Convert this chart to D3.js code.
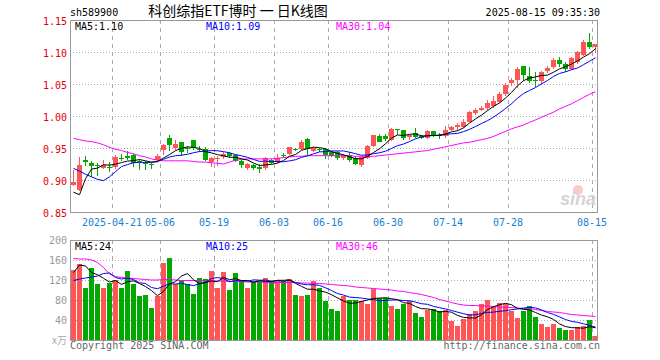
<!DOCTYPE html>
<html><head><meta charset="utf-8">
<script src="https://cdn.jsdelivr.net/npm/d3@7"></script>
<style>body{margin:0;background:#fff}svg{display:block}</style>
</head><body>
<svg id="c" width="660" height="360"></svg>
<script>
// ---------- data ----------
const dates = ["2025-04-10","2025-04-11","2025-04-14","2025-04-15","2025-04-16","2025-04-17","2025-04-18",
"2025-04-21","2025-04-22","2025-04-23","2025-04-24","2025-04-25","2025-04-28","2025-04-29","2025-04-30",
"2025-05-06","2025-05-07","2025-05-08","2025-05-09","2025-05-12","2025-05-13","2025-05-14","2025-05-15","2025-05-16",
"2025-05-19","2025-05-20","2025-05-21","2025-05-22","2025-05-23","2025-05-26","2025-05-27","2025-05-28","2025-05-29","2025-05-30",
"2025-06-03","2025-06-04","2025-06-05","2025-06-06","2025-06-09","2025-06-10","2025-06-11","2025-06-12","2025-06-13",
"2025-06-16","2025-06-17","2025-06-18","2025-06-19","2025-06-20","2025-06-23","2025-06-24","2025-06-25","2025-06-26","2025-06-27",
"2025-06-30","2025-07-01","2025-07-02","2025-07-03","2025-07-04","2025-07-07","2025-07-08","2025-07-09","2025-07-10","2025-07-11",
"2025-07-14","2025-07-15","2025-07-16","2025-07-17","2025-07-18","2025-07-21","2025-07-22","2025-07-23","2025-07-24","2025-07-25",
"2025-07-28","2025-07-29","2025-07-30","2025-07-31","2025-08-01","2025-08-04","2025-08-05","2025-08-06","2025-08-07","2025-08-08",
"2025-08-11","2025-08-12","2025-08-13","2025-08-14","2025-08-15"];

const opens = [0.892,0.885,0.931,0.927,0.924,0.919,0.921,0.920,0.935,0.937,
0.939,0.930,0.927,0.925,0.931,0.947,0.966,0.950,0.959,0.950,
0.962,0.949,0.949,0.928,0.933,0.936,0.942,0.939,0.930,0.918,
0.923,0.921,0.918,0.931,0.928,0.939,0.941,0.949,0.949,0.964,
0.946,0.948,0.948,0.943,0.943,0.934,0.939,0.934,0.923,0.934,
0.953,0.968,0.969,0.962,0.979,0.978,0.967,0.973,0.969,0.965,
0.976,0.970,0.968,0.978,0.983,0.983,0.991,1.005,1.010,1.013,
1.015,1.022,1.034,1.051,1.057,1.078,1.062,1.057,1.054,1.070,
1.076,1.087,1.081,1.074,1.084,1.095,1.115,1.108];
const highs = [0.916,0.936,0.937,0.929,0.926,0.932,0.928,0.939,0.940,0.945,
0.941,0.931,0.929,0.927,0.940,0.957,0.971,0.962,0.960,0.953,
0.963,0.953,0.951,0.936,0.937,0.943,0.943,0.941,0.931,0.927,
0.925,0.925,0.936,0.933,0.941,0.942,0.952,0.950,0.963,0.965,
0.952,0.950,0.950,0.945,0.945,0.941,0.943,0.937,0.937,0.954,
0.971,0.972,0.972,0.981,0.980,0.978,0.971,0.982,0.970,0.978,
0.977,0.974,0.984,0.985,0.989,0.995,1.008,1.012,1.016,1.025,
1.031,1.037,1.052,1.060,1.076,1.078,1.076,1.069,1.071,1.078,
1.090,1.092,1.085,1.092,1.102,1.119,1.130,1.113];
const lows = [0.890,0.883,0.922,0.905,0.906,0.917,0.912,0.917,0.929,0.931,
0.921,0.916,0.916,0.917,0.929,0.939,0.946,0.947,0.937,0.942,
0.947,0.944,0.929,0.920,0.922,0.933,0.934,0.928,0.918,0.916,
0.916,0.911,0.916,0.925,0.926,0.934,0.939,0.945,0.947,0.938,
0.944,0.944,0.933,0.936,0.932,0.931,0.928,0.923,0.921,0.933,
0.952,0.959,0.961,0.961,0.970,0.962,0.963,0.965,0.964,0.964,
0.967,0.964,0.966,0.976,0.977,0.981,0.990,1.002,1.008,1.010,
1.013,1.020,1.031,1.047,1.043,1.055,1.051,1.046,1.048,1.067,
1.073,1.077,1.069,1.072,1.082,1.094,1.104,1.099];
const closes = [0.897,0.923,0.928,0.922,0.923,0.923,0.920,0.936,0.934,0.935,
0.926,0.929,0.926,0.924,0.938,0.955,0.955,0.957,0.943,0.949,
0.950,0.948,0.931,0.934,0.935,0.941,0.937,0.930,0.923,0.925,
0.918,0.917,0.935,0.927,0.935,0.938,0.951,0.948,0.960,0.948,
0.950,0.947,0.939,0.938,0.934,0.939,0.931,0.925,0.936,0.953,
0.970,0.960,0.964,0.980,0.978,0.965,0.970,0.967,0.965,0.977,
0.969,0.969,0.978,0.983,0.986,0.991,1.007,1.010,1.013,1.021,
1.024,1.034,1.048,1.057,1.073,1.064,1.055,1.056,1.069,1.075,
1.087,1.081,1.073,1.090,1.100,1.116,1.108,1.112];

// moving averages at the left edge depend on days before the window
const ma5Head = [0.881,0.877,0.902,0.917];
const ma10Head = [0.918,0.914,0.909,0.905,0.901,0.899,0.905,0.913,0.921];
const ma30 = [0.965,0.963,0.961,0.960,0.958,0.955,0.951,0.948,0.946,0.943,
0.941,0.938,0.936,0.933,0.931,0.930,0.930,0.930,0.930,0.930,
0.929,0.928,0.928,0.927,0.926,0.925,0.928,0.931,0.932,0.933,
0.933,0.933,0.933,0.933,0.934,0.935,0.936,0.937,0.937,0.938,
0.938,0.938,0.938,0.938,0.938,0.938,0.938,0.937,0.937,0.937,
0.937,0.938,0.939,0.940,0.941,0.942,0.943,0.944,0.945,0.946,
0.948,0.950,0.952,0.954,0.956,0.958,0.959,0.961,0.963,0.965,
0.968,0.972,0.976,0.980,0.983,0.986,0.990,0.994,0.998,1.002,
1.006,1.011,1.015,1.019,1.024,1.029,1.034,1.038];

const volumes = [140,152,105,144,112,104,115,120,105,139,
112,89,90,64,88,155,164,113,120,113,
92,125,123,138,105,136,100,135,118,105,
118,118,125,118,118,118,122,90,88,90,
118,105,78,62,58,88,81,81,78,72,
103,85,85,68,62,73,78,54,46,60,
62,58,60,38,28,42,53,58,72,80,
69,74,72,58,44,58,69,46,32,27,
32,24,20,20,26,28,40,8];
const vma5Head = [135,150,148,135];
const vma10Head = [119,122,124,126,128,133,134,125,122];
const vma30 = [163,162,162,160,155,145,132,127,125,124,
123,122,121,120,120,121,121,120,119,119,
119,119,118,118,118,118,117,117,117,116,
116,116,115,115,115,115,115,115,114,114,
113,113,112,111,110,109,108,106,105,104,
103,102,101,100,98,97,95,93,91,88,
85,81,78,75,72,70,69,69,68,68,
67,66,65,65,64,63,63,61,59,57,
56,55,53,51,50,49,48,47];

const tickDates = ["2025-04-21","2025-05-06","2025-05-19","2025-06-03","2025-06-16","2025-06-30","2025-07-14","2025-07-28","2025-08-15"];
const priceTicks = [0.85,0.90,0.95,1.00,1.05,1.10,1.15];
const volTicks = [40,80,120,160,200];

const titleCode = "sh589900";
const titleName = "科创综指ETF博时 一 日K线图";
const titleTime = "2025-08-15 09:35:30";
const priceMaLabels = ["MA5:1.10","MA10:1.09","MA30:1.04"];
const volMaLabels = ["MA5:24","MA10:25","MA30:46"];

// ---------- helpers ----------
function movingAvg(arr, n, head){
  return arr.map((v,i)=> i < n-1 ? head[i] : d3.mean(arr.slice(i-n+1,i+1)));
}
const ma5 = movingAvg(closes,5,ma5Head), ma10 = movingAvg(closes,10,ma10Head);
const vma5 = movingAvg(volumes,5,vma5Head), vma10 = movingAvg(volumes,10,vma10Head);

const UP = "#ff5555", DOWN = "#00a800";
const MONO = "'DejaVu Sans Mono', monospace";
const L = 70, R = 598, PT = 20, PB = 212, VT = 240, VB = 340;

const svg = d3.select("#c");
const x = d3.scaleBand().domain(d3.range(dates.length)).range([L,R]).padding(0);
const cx = i => x(i) + 3.5;
const y = d3.scaleLinear().domain([0.85,1.15]).range([PB,PT]);
const yv = d3.scaleLinear().domain([0,200]).range([VB,VT]);
const dateIdx = d => dates.indexOf(d);

// ---------- grids ----------
function grids(top, bottom, scale, ticks){
  const g = svg.append("g").attr("shape-rendering","crispEdges");
  g.selectAll("line.h").data(ticks).join("line")
    .attr("x1",L).attr("x2",R).attr("y1",d=>Math.round(scale(d))+0.5).attr("y2",d=>Math.round(scale(d))+0.5)
    .attr("stroke","#aaa").attr("stroke-dasharray","1,2");
  g.selectAll("line.v").data(tickDates).join("line")
    .attr("x1",d=>x(dateIdx(d))+0.5).attr("x2",d=>x(dateIdx(d))+0.5).attr("y1",top).attr("y2",bottom)
    .attr("stroke","#aaa").attr("stroke-dasharray","4,4");
}
grids(PT, PB, y, priceTicks.slice(1,-1));
grids(VT, VB, yv, volTicks.slice(0,-1));

// ---------- watermark ----------
svg.append("circle").attr("cx",578).attr("cy",190).attr("r",5).attr("fill","#f5cccc");
svg.append("text").attr("x",596).attr("y",205).attr("text-anchor","end")
  .attr("font-family","'Liberation Sans',Arial,sans-serif").attr("font-size",18).attr("font-weight","bold")
  .attr("font-style","italic").attr("fill","#d4d4d4").text("sina");

// ---------- candles ----------
const cg = svg.append("g").attr("shape-rendering","crispEdges");
const color = i => closes[i] >= opens[i] ? UP : DOWN;
cg.selectAll("line.w").data(d3.range(dates.length)).join("line")
  .attr("x1",i=>Math.floor(cx(i))+0.5).attr("x2",i=>Math.floor(cx(i))+0.5)
  .attr("y1",i=>y(highs[i])).attr("y2",i=>y(lows[i])).attr("stroke",color);
cg.selectAll("rect.b").data(d3.range(dates.length)).join("rect")
  .attr("x",i=>x(i)+1).attr("width",5)
  .attr("y",i=>y(Math.max(opens[i],closes[i])))
  .attr("height",i=>Math.max(1, Math.abs(y(opens[i])-y(closes[i]))))
  .attr("fill",color);

// ---------- volume bars ----------
svg.append("g").attr("shape-rendering","crispEdges")
  .selectAll("rect").data(d3.range(dates.length)).join("rect")
  .attr("x",i=>x(i)+1).attr("width",5)
  .attr("y",i=>yv(volumes[i])).attr("height",i=>VB-yv(volumes[i]))
  .attr("fill",color);

// ---------- MA lines ----------
function maLine(vals, scale, col){
  svg.append("path").datum(vals)
    .attr("d", d3.line().x((d,i)=>cx(i)).y(d=>scale(d)))
    .attr("fill","none").attr("stroke",col).attr("stroke-width",1);
}
maLine(ma30, y, "#ff00ff"); maLine(ma10, y, "#0000ff"); maLine(ma5, y, "#000");
maLine(vma30, yv, "#ff00ff"); maLine(vma10, yv, "#0000ff"); maLine(vma5, yv, "#000");

// ---------- frames ----------
svg.append("rect").attr("x",L+0.5).attr("y",PT+0.5).attr("width",R-L-1).attr("height",PB-PT)
  .attr("fill","none").attr("stroke","#999").attr("shape-rendering","crispEdges");
svg.append("rect").attr("x",L+0.5).attr("y",VT+0.5).attr("width",R-L-1).attr("height",VB-VT)
  .attr("fill","none").attr("stroke","#999").attr("shape-rendering","crispEdges");

// ---------- texts ----------
const txt = (xx,yy,s,col,anchor="start",size=10,fam=MONO)=>
  svg.append("text").attr("x",xx).attr("y",yy).attr("text-anchor",anchor)
    .attr("font-family",fam).attr("font-size",size).attr("fill",col).text(s);

txt(70,16,titleCode,"#000");
txt(238,16,titleName,"#000","middle",14,"'Noto Sans CJK SC',sans-serif");
txt(600,16,titleTime,"#000","end");

const maCols = ["#000","#0000ff","#ff00ff"], maX = [75,206,336];
priceMaLabels.forEach((s,k)=>txt(maX[k],30,s,maCols[k]));
volMaLabels.forEach((s,k)=>txt(maX[k],250,s,maCols[k]));

priceTicks.forEach(p=>txt(67,y(p)+5,p.toFixed(2),"#e00000","end"));
volTicks.forEach(v=>txt(67,yv(v)+4,String(v),"#999","end"));
txt(67,344,"x万","#aaa","end",10,"'Noto Sans CJK SC',sans-serif");

tickDates.forEach((d,k)=>{
  const s = k===0 ? d : d.slice(5);
  txt(x(dateIdx(d)),226,s,"#1a7fd0","middle");
});

txt(70,349,"Copyright 2025 SINA.COM","#666");
txt(600,349,"http://finance.sina.com.cn","#666","end");
</script>
</body></html>
